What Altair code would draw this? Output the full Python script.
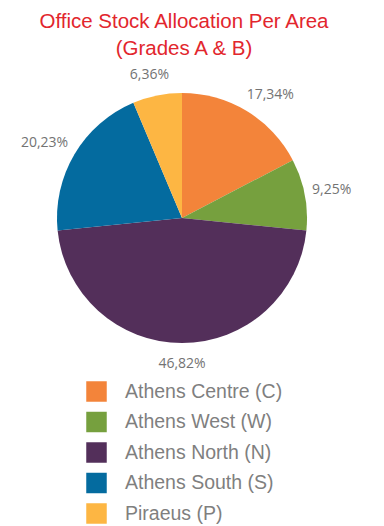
import altair as alt
import pandas as pd

areas = ["Athens Centre (C)", "Athens West (W)", "Athens North (N)", "Athens South (S)", "Piraeus (P)"]
shares = [17.34, 9.25, 46.82, 20.23, 6.36]
colors = ["#F3843A", "#76A03E", "#532F5A", "#046B9F", "#FDB643"]
title_lines = ["Office Stock Allocation Per Area", "(Grades A & B)"]

df = pd.DataFrame({"area": areas, "share": shares, "order": list(range(len(areas)))})

CX, CY, R = 174, 210, 125
ANCHOR_R = 132

base = alt.Chart(df)

pie = base.mark_arc(outerRadius=R).encode(
    theta=alt.Theta("share:Q", stack=True),
    order=alt.Order("order:Q"),
    color=alt.Color(
        "area:N",
        scale=alt.Scale(domain=areas, range=colors),
        legend=alt.Legend(
            title=None, orient="none", legendX=78, legendY=373,
            symbolType="square", symbolSize=420, symbolStrokeWidth=0,
            symbolOpacity=1,
            labelFont="Liberation Sans", labelFontSize=19.5, labelColor="#7f7f7f",
            labelOffset=18, rowPadding=9.5, labelLimit=400, padding=0,
        ),
    ),
    x=alt.value(CX),
    y=alt.value(CY),
)

labels = base.transform_joinaggregate(
    total="sum(share)"
).transform_window(
    cum="sum(share)", sort=[alt.SortField("order")], frame=[None, 0]
).transform_calculate(
    label="replace(format(datum.share, '.2f'), '.', ',') + '%'",
).transform_calculate(
    ang="2*PI*(datum.cum - datum.share/2)/datum.total",
    w="length(datum.label)*8",
).transform_calculate(
    px=f"{CX} + {ANCHOR_R}*sin(datum.ang) + datum.w/2*clamp(1.6*sin(datum.ang), -1, 1)",
    py=f"{CY} - {ANCHOR_R}*cos(datum.ang) - 7*clamp(2*cos(datum.ang), -1, 1) - 7*pow(cos(datum.ang), 5)",
).mark_text(font="Open Sans", fontSize=14, color="#737373", baseline="middle").encode(
    x=alt.X("px:Q", scale=None),
    y=alt.Y("py:Q", scale=None),
    text="label:N",
)

tdf = pd.DataFrame({"line": title_lines, "row": [0, 1]})
title = alt.Chart(tdf).transform_calculate(
    ty="20 + 27*datum.row"
).mark_text(
    font="Liberation Sans", fontSize=20.5, color="#E2262D",
    baseline="alphabetic", align="center",
).encode(
    x=alt.value(176), y=alt.Y("ty:Q", scale=None), text="line:N"
)

chart = alt.layer(pie, labels, title).properties(
    width=368, height=518, autosize=alt.AutoSizeParams(type="none"), padding=0,
    background="white",
).configure_view(strokeWidth=0)

chart.save("out.html", embed_options={"renderer": "svg", "actions": False})
